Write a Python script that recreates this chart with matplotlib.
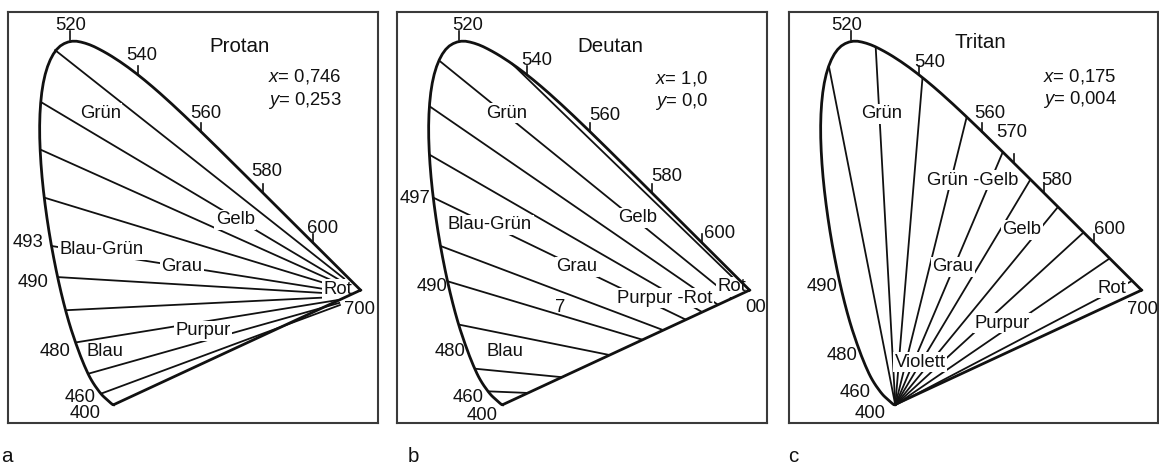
import numpy as np
import matplotlib
matplotlib.use("Agg")
import matplotlib.pyplot as plt

plt.rcParams["font.family"] = ["Liberation Sans", "DejaVu Sans"]
plt.rcParams["mathtext.fontset"] = "custom"
plt.rcParams["mathtext.it"] = "Liberation Sans:italic"
plt.rcParams["mathtext.rm"] = "Liberation Sans"

# CIE 1931 spectral locus: wavelength (nm) and chromaticity x, y
locus_nm = [400, 410, 420, 430, 440, 450, 460, 470, 475, 480, 485, 490, 495,
            500, 505, 510, 515, 520, 525, 530, 535, 540, 545, 550, 555, 560,
            565, 570, 575, 580, 585, 590, 595, 600, 605, 610, 620, 630, 640,
            650, 700]
locus_x = [0.1733, 0.1726, 0.1714, 0.1689, 0.1644, 0.1566, 0.1440, 0.1241,
           0.1096, 0.0913, 0.0687, 0.0454, 0.0235, 0.0082, 0.0039, 0.0139,
           0.0389, 0.0743, 0.1142, 0.1547, 0.1929, 0.2296, 0.2658, 0.3016,
           0.3373, 0.3731, 0.4087, 0.4441, 0.4788, 0.5125, 0.5448, 0.5752,
           0.6029, 0.6270, 0.6482, 0.6658, 0.6915, 0.7079, 0.7190, 0.7260,
           0.7347]
locus_y = [0.0048, 0.0048, 0.0051, 0.0069, 0.0109, 0.0177, 0.0297, 0.0578,
           0.0868, 0.1327, 0.2007, 0.2950, 0.4127, 0.5384, 0.6548, 0.7502,
           0.8120, 0.8338, 0.8262, 0.8059, 0.7816, 0.7543, 0.7243, 0.6923,
           0.6589, 0.6245, 0.5896, 0.5547, 0.5202, 0.4866, 0.4544, 0.4242,
           0.3965, 0.3725, 0.3514, 0.3340, 0.3083, 0.2920, 0.2809, 0.2740,
           0.2653]

# Copunctal points (x, y) of the three dichromacies
protan_copunct = (0.746, 0.253)
deutan_copunct = (1.0, 0.0)
tritan_copunct = (0.175, 0.004)

# Wavelengths (nm) where the drawn confusion lines leave the spectral locus
protan_nm = [515, 507, 502, 497.5, 493, 490, 486, 481, 473, 460]
deutan_nm = [535, 513, 506.5, 501.5, 497.5, 493, 489.5, 484, 475, 462]
tritan_nm = [512, 527, 541, 555, 566.5, 575.5, 585, 595, 609, 635]

# Wavelengths marked with a tick on the upper locus
ticks_ab = [520, 540, 560, 580, 600]
ticks_c = [520, 540, 560, 570, 580, 600]

PX = 440.0          # pixels per chromaticity unit
X0, YTOP = -0.0666, 0.8974
FIG_W, FIG_H = 1159, 466
INK = "#111111"
FS = 13.3


def locus_pt(w):
    return np.array([np.interp(w, locus_nm, locus_x),
                     np.interp(w, locus_nm, locus_y)])


def chaikin(xs, ys, n=2):
    pts = np.column_stack([xs, ys])
    for _ in range(n):
        q = 0.75 * pts[:-1] + 0.25 * pts[1:]
        r = 0.25 * pts[:-1] + 0.75 * pts[1:]
        mid = np.empty((2 * len(q), 2))
        mid[0::2] = q
        mid[1::2] = r
        pts = np.vstack([pts[:1], mid, pts[-1:]])
    return pts[:, 0], pts[:, 1]


def purple_hit(p, q):
    a, b = locus_pt(400), locus_pt(700)
    d, e = q - p, b - a
    den = d[0] * e[1] - d[1] * e[0]
    t = ((a[0] - p[0]) * e[1] - (a[1] - p[1]) * e[0]) / den
    return p + min(t, 1.0) * d


def fmt(v, nd):
    return f"{v:.{nd}f}".replace(".", ",")


def panel(left_px, width_px, title, copunct, nd, start_nm, mode, tick_nm,
          names, waves, title_pos, xy_pos):
    ax = fig.add_axes([left_px / FIG_W, 43 / FIG_H,
                       width_px / FIG_W, 411 / FIG_H])
    ax.set_xlim(X0, X0 + width_px / PX)
    ax.set_ylim(YTOP - 411 / PX, YTOP)
    ax.set_xticks([])
    ax.set_yticks([])
    for s in ax.spines.values():
        s.set_linewidth(1.5)
        s.set_color("#3a3a3a")

    c = np.array(copunct)
    for w in start_nm:
        p = locus_pt(w)
        if mode == "gap":
            d = c - p
            q = p + d * (1 - 0.06 / np.hypot(*d))
        elif mode == "purple":
            q = purple_hit(p, c)
        else:
            q = c
        ax.plot([p[0], q[0]], [p[1], q[1]], color=INK, lw=1.3,
                solid_capstyle="butt", zorder=2)

    sx, sy = chaikin(locus_x, locus_y, 2)
    ax.plot(sx, sy, color=INK, lw=2.0, zorder=6, solid_joinstyle="round")
    ax.plot([locus_x[0], locus_x[-1]], [locus_y[0], locus_y[-1]],
            color=INK, lw=2.0, zorder=6, solid_capstyle="round")

    for w in tick_nm:
        p = locus_pt(w)
        ax.plot([p[0], p[0]], [p[1], p[1] + 0.02], color=INK, lw=1.2,
                zorder=6)

    tf = ax.transAxes
    ax.text(*title_pos, title, transform=tf, ha="center", va="center",
            fontsize=14.8, color=INK)
    ax.text(xy_pos[0], xy_pos[1], f"$x$= {fmt(copunct[0], nd)}",
            transform=tf, ha="left", va="center", fontsize=FS, color=INK)
    ax.text(xy_pos[0], xy_pos[1] - 0.057, f"$y$= {fmt(copunct[1], nd)}",
            transform=tf, ha="left", va="center", fontsize=FS, color=INK)
    for txt, fx, fy in names:
        ax.text(fx, fy, txt, transform=tf, ha="center", va="center",
                fontsize=FS, color=INK, zorder=5,
                bbox=dict(facecolor="white", edgecolor="none", pad=1.2))
    for txt, fx, fy in waves:
        ax.text(fx, fy, txt, transform=tf, ha="center", va="center",
                fontsize=FS, color=INK, zorder=7)
    return ax


fig = plt.figure(figsize=(FIG_W / 100, FIG_H / 100), dpi=100)

panel(8, 370, "Protan", protan_copunct, 3, protan_nm, "gap", ticks_ab,
      [("Grün", 0.249, 0.754), ("Gelb", 0.614, 0.494),
       ("Blau-Grün", 0.254, 0.421), ("Grau", 0.470, 0.380),
       ("Rot", 0.892, 0.326), ("Purpur", 0.527, 0.224),
       ("Blau", 0.262, 0.173)],
      [("520", 0.168, 0.966), ("540", 0.362, 0.895), ("560", 0.535, 0.754),
       ("580", 0.700, 0.611), ("600", 0.849, 0.474), ("700", 0.951, 0.277),
       ("493", 0.054, 0.440), ("490", 0.068, 0.343), ("480", 0.127, 0.175),
       ("460", 0.195, 0.063), ("400", 0.208, 0.024)],
      (0.627, 0.915), (0.703, 0.842))

panel(397, 370, "Deutan", deutan_copunct, 1, deutan_nm, "purple", ticks_ab,
      [("Grün", 0.297, 0.754), ("Gelb", 0.651, 0.499),
       ("Blau-Grün", 0.251, 0.482), ("Grau", 0.486, 0.380),
       ("Purpur -Rot", 0.724, 0.304), ("Rot", 0.905, 0.331),
       ("Blau", 0.292, 0.173)],
      [("520", 0.192, 0.968), ("540", 0.378, 0.883), ("560", 0.562, 0.747),
       ("580", 0.730, 0.599), ("600", 0.873, 0.462), ("00", 0.968, 0.280),
       ("7", 0.441, 0.280),
       ("497", 0.049, 0.547), ("490", 0.095, 0.333), ("480", 0.143, 0.173),
       ("460", 0.192, 0.063), ("400", 0.230, 0.019)],
      (0.576, 0.915), (0.697, 0.839))

panel(789, 369, "Tritan", tritan_copunct, 3, tritan_nm, "full", ticks_c,
      [("Grün", 0.252, 0.752), ("Grün -Gelb", 0.499, 0.591),
       ("Gelb", 0.631, 0.470), ("Grau", 0.444, 0.380),
       ("Rot", 0.875, 0.328), ("Purpur", 0.577, 0.243),
       ("Violett", 0.355, 0.148)],
      [("520", 0.157, 0.968), ("540", 0.382, 0.878), ("560", 0.545, 0.754),
       ("570", 0.604, 0.708), ("580", 0.726, 0.591), ("600", 0.870, 0.470),
       ("700", 0.959, 0.275), ("490", 0.089, 0.331), ("480", 0.144, 0.165),
       ("460", 0.179, 0.073), ("400", 0.220, 0.024)],
      (0.518, 0.925), (0.688, 0.844))

for letter, px in (("a", 7), ("b", 413), ("c", 793)):
    fig.text(px / FIG_W, 1 - 456 / FIG_H, letter, ha="center", va="center",
             fontsize=14.8, color=INK)

fig.savefig("out.png", dpi=100, facecolor="white")
